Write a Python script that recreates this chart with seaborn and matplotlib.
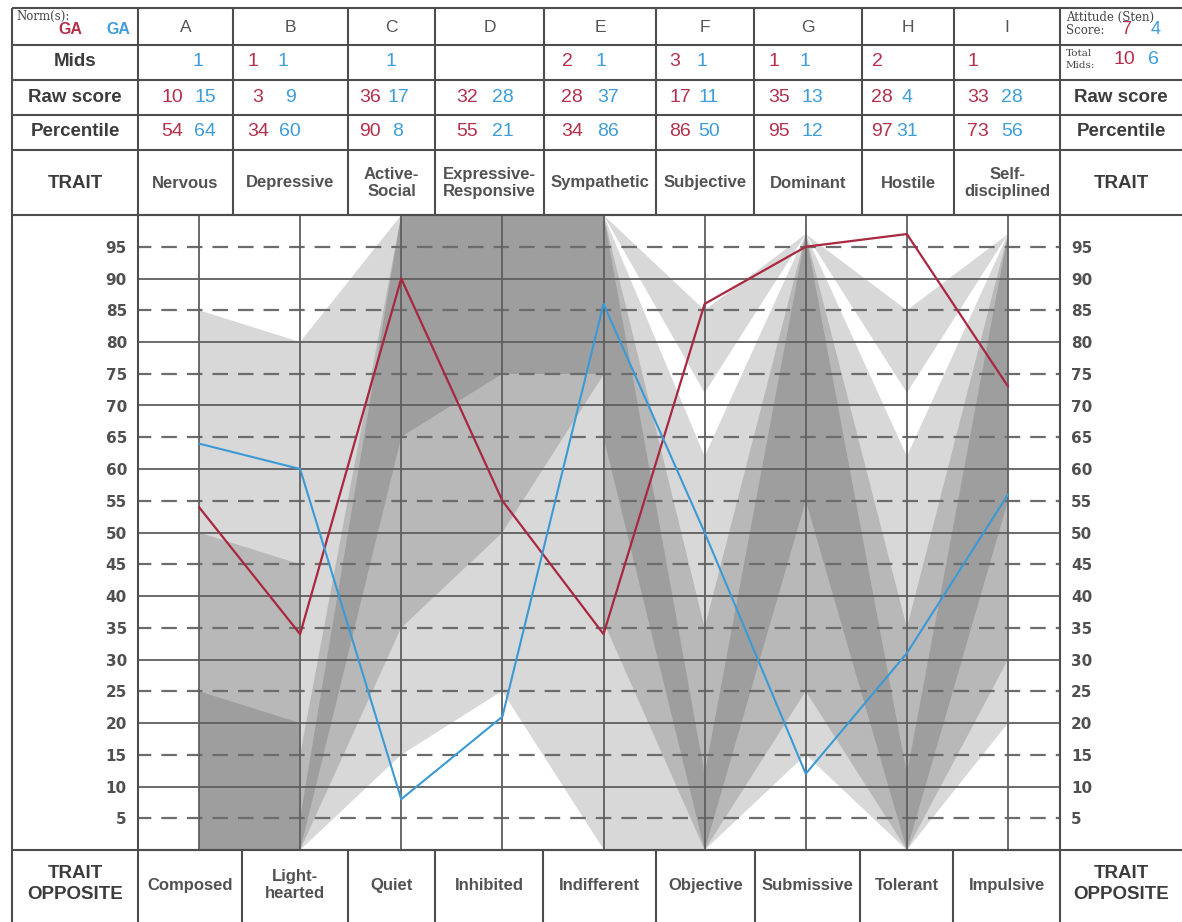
import numpy as np
import pandas as pd
import matplotlib
matplotlib.use('Agg')
import matplotlib.pyplot as plt
import seaborn as sns

# ---- data ----
letters = ['A', 'B', 'C', 'D', 'E', 'F', 'G', 'H', 'I']
traits = ['Nervous', 'Depressive', 'Active-\nSocial', 'Expressive-\nResponsive', 'Sympathetic',
          'Subjective', 'Dominant', 'Hostile', 'Self-\ndisciplined']
opposites = ['Composed', 'Light-\nhearted', 'Quiet', 'Inhibited', 'Indifferent',
             'Objective', 'Submissive', 'Tolerant', 'Impulsive']
mids_red = ['', '1', '', '', '2', '3', '1', '2', '1']
mids_blue = ['1', '1', '1', '', '1', '1', '1', '', '']
raw_red = ['10', '3', '36', '32', '28', '17', '35', '28', '33']
raw_blue = ['15', '9', '17', '28', '37', '11', '13', '4', '28']
pct_red = [54, 34, 90, 55, 34, 86, 95, 97, 73]
pct_blue = [64, 60, 8, 21, 86, 50, 12, 31, 56]
sten = ['7', '4']
total_mids = ['10', '6']
ticks = list(range(5, 100, 5))

# shaded norm zones between neighbouring traits:
# (left trait index, low at left, high at left, low at right, high at right)
zones = [
    (0, 0, 85, 0, 80), (0, 0, 50, 0, 45), (0, 0, 25, 0, 20),
    (1, 0, 80, 15, 100), (1, 0, 15, 35, 100), (1, 0, 5, 65, 100),
    (2, 15, 100, 25, 100), (2, 35, 100, 50, 100), (2, 65, 100, 75, 100),
    (3, 25, 100, 0, 100), (3, 50, 100, 75, 100), (3, 75, 100, 75, 100),
    (4, 0, 100, 0, 62), (4, 100, 100, 72, 85), (4, 36, 100, 0, 35), (4, 65, 100, 0, 12),
    (5, 0, 62, 15, 97), (5, 72, 85, 97, 97), (5, 0, 35, 25, 97), (5, 0, 12, 55, 97),
    (6, 15, 97, 0, 62), (6, 97, 97, 72, 85), (6, 25, 97, 0, 35), (6, 55, 97, 0, 12),
    (7, 0, 62, 20, 97), (7, 72, 85, 97, 97), (7, 0, 35, 30, 97), (7, 0, 12, 55, 97),
]

RED = '#a8283f'
BLUE = '#3b9ad6'
RED_T = '#b2304c'
BLUE_T = '#3f9dd9'
GRID = '#5f5f5f'
INK = '#3c3c3c'

sns.set_theme(style='white')
plt.rcParams['font.family'] = ['Liberation Sans', 'DejaVu Sans']

W, H = 1182, 922
L, R, T, B = 138, 1060, 215, 850
fig = plt.figure(figsize=(W / 100, H / 100), dpi=100)
ax = fig.add_axes([L / W, 1 - B / H, (R - L) / W, (B - T) / H])

# shading
for i, lo_l, hi_l, lo_r, hi_r in zones:
    ax.fill([i, i, i + 1, i + 1], [lo_l, hi_l, hi_r, lo_r], color='#2a2a2a',
            alpha=0.18, lw=0, zorder=1)

# grid
for v in range(10, 100, 10):
    ax.axhline(v, color=GRID, lw=1.3, zorder=2)
for v in range(5, 100, 10):
    ax.axhline(v, color='#6c6c6c', lw=1.6, ls=(1, (7, 4.5)), zorder=2)
for i in range(len(letters)):
    ax.axvline(i, color=GRID, lw=1.3, zorder=2)

df = pd.DataFrame({'pos': range(len(letters)), 'red': pct_red, 'blue': pct_blue})
sns.lineplot(data=df, x='pos', y='red', color=RED, lw=1.6, ax=ax, zorder=3)
sns.lineplot(data=df, x='pos', y='blue', color=BLUE, lw=1.5, ax=ax, zorder=3)

ax.set_xlim(-0.603, 8.514)
ax.set_ylim(0, 100)
ax.set_xticks([])
ax.set_yticks(ticks)
ax.set_yticklabels([str(t) for t in ticks], family='DejaVu Sans', fontweight='bold',
                   fontsize=11, color='#505050')
ax.tick_params(axis='y', length=0, pad=8, labelleft=True, labelright=True)
ax.set_xlabel('')
ax.set_ylabel('')
for s in ax.spines.values():
    s.set_color('#4d4d4d')
    s.set_linewidth(1.5)

# ---- table around the plot ----
tab = fig.add_axes([0, 0, 1, 1], zorder=5)
tab.set_xlim(0, W)
tab.set_ylim(H, 0)
tab.axis('off')

head_rows = [8, 45, 80, 115, 150, 215]
head_cols = [138, 233, 348, 435, 544, 656, 754, 862, 954, 1060]
foot_cols = [138, 242, 348, 435, 543, 656, 755, 860, 953, 1060]
red_x = [172, 258, 370, 467, 572, 680, 779, 882, 978]
blue_x = [205, 290, 398, 503, 608, 709, 812, 907, 1012]
lk = dict(color='#4d4d4d', lw=1.5, solid_capstyle='butt')
for y in head_rows + [B]:
    tab.plot([12, W], [y, y], **lk)
tab.plot([12, 12], [8, H], **lk)
for x in head_cols:
    tab.plot([x, x], [8, T], **lk)
for x in foot_cols:
    tab.plot([x, x], [B, H], **lk)

row_y = [27, 62, 97, 132, 183]
lab = dict(ha='center', va='center', fontweight='bold', fontsize=13.5, color=INK)
tab.text(75, row_y[1], 'Mids', **lab)
for xc in (75, 1121):
    tab.text(xc, row_y[2], 'Raw score', **lab)
    tab.text(xc, row_y[3], 'Percentile', **lab)
    tab.text(xc, row_y[4], 'TRAIT', **lab)
    tab.text(xc, 884, 'TRAIT\nOPPOSITE', linespacing=1.3, **lab)

num = dict(ha='center', va='center', fontsize=14)
name = dict(ha='center', va='center', fontweight='bold', fontsize=12, color='#525252',
            linespacing=1.2)
for k in range(len(letters)):
    cx = (head_cols[k] + head_cols[k + 1]) / 2
    tab.text(cx, row_y[0], letters[k], ha='center', va='center', fontsize=12.5, color='#555555')
    tab.text(red_x[k] - 5, row_y[1], mids_red[k], color=RED_T, **num)
    tab.text(blue_x[k] - 7, row_y[1], mids_blue[k], color=BLUE_T, **num)
    tab.text(red_x[k], row_y[2], raw_red[k], color=RED_T, **num)
    tab.text(blue_x[k], row_y[2], raw_blue[k], color=BLUE_T, **num)
    tab.text(red_x[k], row_y[3], str(pct_red[k]), color=RED_T, **num)
    tab.text(blue_x[k], row_y[3], str(pct_blue[k]), color=BLUE_T, **num)
    tab.text(cx, row_y[4], traits[k], **name)
    fx = (foot_cols[k] + foot_cols[k + 1]) / 2
    tab.text(fx, 885, opposites[k], **name)

serif = dict(family='DejaVu Serif', fontsize=8.5, color='#444444', va='center')
tab.text(16, 16, 'Norm(s):', ha='left', **serif)
tab.text(70, 30, 'GA', ha='center', va='center', fontweight='bold', fontsize=11.5, color=RED_T)
tab.text(118, 30, 'GA', ha='center', va='center', fontweight='bold', fontsize=11.5, color=BLUE_T)
tab.text(1066, 17, 'Attitude (Sten)', ha='left', **serif)
tab.text(1066, 30, 'Score:', ha='left', **serif)
tab.text(1126, 30, sten[0], color=RED_T, ha='center', va='center', fontsize=13)
tab.text(1156, 30, sten[1], color=BLUE_T, ha='center', va='center', fontsize=13)
small = dict(serif, fontsize=7.5)
tab.text(1066, 53, 'Total', ha='left', **small)
tab.text(1066, 66, 'Mids:', ha='left', **small)
tab.text(1124, 60, total_mids[0], color=RED_T, ha='center', va='center', fontsize=14)
tab.text(1153, 60, total_mids[1], color=BLUE_T, ha='center', va='center', fontsize=14)

fig.savefig('out.png', dpi=100)
